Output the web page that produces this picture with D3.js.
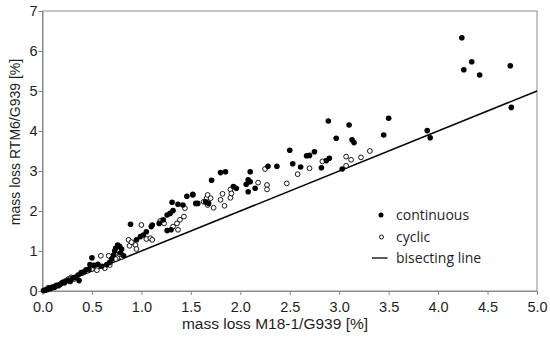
<!DOCTYPE html>
<html><head><meta charset="utf-8">
<script src="https://cdn.jsdelivr.net/npm/d3@7"></script>
<style>html,body{margin:0;padding:0;background:#fff;}svg{display:block;}</style>
</head><body>
<script>
const continuous = [
[0.01,0.01],[0.03,0.02],[0.05,0.04],[0.06,0.08],[0.08,0.06],[0.10,0.10],[0.12,0.09],[0.14,0.14],[0.16,0.13],[0.18,0.17],
[0.20,0.21],[0.22,0.20],[0.24,0.25],[0.26,0.27],[0.28,0.24],[0.30,0.31],[0.33,0.34],[0.36,0.40],[0.37,0.26],[0.39,0.46],
[0.42,0.48],[0.44,0.53],[0.47,0.55],[0.48,0.66],[0.50,0.83],[0.52,0.64],[0.56,0.67],[0.60,0.62],[0.65,0.66],[0.68,0.72],
[0.70,0.80],[0.72,0.90],[0.73,1.00],[0.74,1.07],[0.76,1.15],[0.78,1.12],[0.80,1.05],[0.79,0.95],[0.82,0.88],
[0.89,1.67],[0.95,1.28],[0.99,1.36],[1.02,1.40],[1.05,1.48],[1.10,1.61],[1.11,1.65],[1.18,1.69],[1.22,1.78],[1.26,1.90],
[1.29,1.94],[1.32,2.01],[1.31,2.22],[1.37,2.17],[1.42,2.15],[1.26,1.51],[1.30,1.53],[1.46,2.37],[1.52,2.42],[1.55,2.19],
[1.52,2.40],[1.57,2.19],[1.65,2.23],[1.68,2.19],[1.71,2.77],[1.80,2.96],[1.85,2.98],[1.93,2.61],[1.96,2.57],[2.06,2.67],
[2.08,2.78],[2.10,2.73],[2.08,2.48],[2.15,2.57],[2.10,2.98],[2.28,3.12],[2.37,3.12],
[2.50,3.52],[2.53,3.18],[2.61,3.10],[2.67,3.38],[2.70,3.39],[2.75,3.48],[2.82,3.08],[2.87,3.26],[2.90,3.32],[2.89,4.25],
[2.97,3.82],[3.03,3.05],[3.10,4.15],[3.13,3.78],[3.15,3.71],[3.45,3.90],[3.50,4.32],[3.89,4.01],[3.92,3.83],
[4.24,6.33],[4.34,5.73],[4.26,5.53],[4.42,5.40],[4.73,5.63],[4.74,4.59]
];
const cyclic = [
[0.02,0.02],[0.05,0.05],[0.09,0.08],[0.13,0.12],[0.17,0.16],[0.22,0.24],[0.26,0.30],[0.29,0.34],[0.32,0.30],[0.40,0.45],
[0.45,0.50],[0.50,0.55],[0.55,0.52],[0.59,0.88],[0.63,0.57],[0.67,0.88],[0.68,0.65],[0.72,0.86],[0.74,0.80],[0.76,1.02],
[0.80,0.85],[0.78,0.92],
[0.87,1.28],[0.88,1.13],[0.90,1.22],[0.94,1.15],[0.95,1.05],[1.00,1.65],[1.05,1.30],[1.09,1.32],[1.11,1.28],[1.19,1.75],
[1.23,1.69],[1.32,1.61],[1.36,1.69],[1.37,1.53],[1.39,1.78],[1.43,1.86],[1.44,2.07],
[1.63,2.23],[1.67,2.15],[1.66,2.32],[1.67,2.40],[1.70,2.32],[1.73,2.08],[1.80,2.28],[1.82,2.43],[1.84,2.13],[1.90,2.33],
[1.90,2.54],[1.91,2.44],[2.18,2.71],[2.25,3.05],[2.27,2.65],[2.27,2.54],[2.47,2.69],[2.58,2.92],[2.70,3.07],[2.83,3.24],
[3.07,3.36],[3.12,3.28],[3.07,3.13],[3.22,3.34],[3.31,3.50]
];
const bisecting = [[0,0],[5,5]];
const xTicks = [0,0.5,1,1.5,2,2.5,3,3.5,4,4.5,5];
const yTicks = [0,1,2,3,4,5,6,7];
const legendLabels = ["continuous","cyclic","bisecting line"];
const xTitle = "mass loss M18-1/G939 [%]";
const yTitle = "mass loss RTM6/G939 [%]";

const W = 550, H = 345;
const m = {left:42.5, right:13, top:11, bottom:54};
const svg = d3.select("body").append("svg").attr("width",W).attr("height",H);
const x = d3.scaleLinear().domain([0,5]).range([m.left, W-m.right]);
const y = d3.scaleLinear().domain([0,7]).range([H-m.bottom, m.top]);
const axisCol = "#8a8a8a", textCol = "#1e1e1e";

// frame
svg.append("rect").attr("x",x(0)).attr("y",y(7)).attr("width",x(5)-x(0)).attr("height",y(0)-y(7))
  .attr("fill","none").attr("stroke",axisCol).attr("stroke-width",1);

const gx = svg.append("g").attr("transform",`translate(0,${y(0)})`)
  .call(d3.axisBottom(x).tickValues(xTicks).tickFormat(d3.format(".1f")).tickSize(4).tickSizeOuter(0));
const gy = svg.append("g").attr("transform",`translate(${x(0)},0)`)
  .call(d3.axisLeft(y).tickValues(yTicks).tickFormat(d3.format("d")).tickSize(4).tickSizeOuter(0));
[gx,gy].forEach(g=>{
  g.select(".domain").attr("stroke",axisCol);
  g.selectAll(".tick line").attr("stroke",axisCol);
  g.selectAll(".tick text").attr("fill",textCol).attr("font-family","Liberation Sans, Arial, sans-serif").attr("font-size",14.5);
});
gx.selectAll(".tick text").attr("dy","0.95em");
gy.selectAll(".tick text").attr("x",-5);

svg.append("text").attr("x",(182+368)/2).attr("y",329).attr("text-anchor","middle")
  .attr("font-family","Liberation Sans, Arial, sans-serif").attr("font-size",15.5).attr("fill",textCol).text(xTitle);
svg.append("text").attr("transform",`translate(19.5,142) rotate(-90)`).attr("text-anchor","middle")
  .attr("font-family","Liberation Sans, Arial, sans-serif").attr("font-size",14).attr("fill",textCol).text(yTitle);

// bisecting line
svg.append("path").datum(bisecting).attr("d",d3.line().x(d=>x(d[0])).y(d=>y(d[1])))
  .attr("stroke","#000").attr("stroke-width",1.5).attr("fill","none");

svg.append("g").selectAll("circle").data(cyclic).join("circle")
  .attr("cx",d=>x(d[0])).attr("cy",d=>y(d[1])).attr("r",2.4)
  .attr("fill","#fff").attr("stroke","#000").attr("stroke-width",0.9);
svg.append("g").selectAll("circle").data(continuous).join("circle")
  .attr("cx",d=>x(d[0])).attr("cy",d=>y(d[1])).attr("r",2.8).attr("fill","#000");

// legend
const lg = svg.append("g").attr("font-family","Open Sans, Lato, sans-serif").attr("font-size",14).attr("fill",textCol);
const ly = [215,237,258];
lg.append("circle").attr("cx",381).attr("cy",ly[0]).attr("r",2.5).attr("fill","#000");
lg.append("circle").attr("cx",381.5).attr("cy",ly[1]).attr("r",2).attr("fill","#fff").attr("stroke","#000").attr("stroke-width",0.9);
lg.append("line").attr("x1",372).attr("x2",387.5).attr("y1",ly[2]).attr("y2",ly[2]).attr("stroke","#000").attr("stroke-width",1.3);
legendLabels.forEach((t,i)=>{
  lg.append("text").attr("x",396).attr("y",ly[i]).attr("dy","0.35em").text(t);
});
</script>
</body></html>
